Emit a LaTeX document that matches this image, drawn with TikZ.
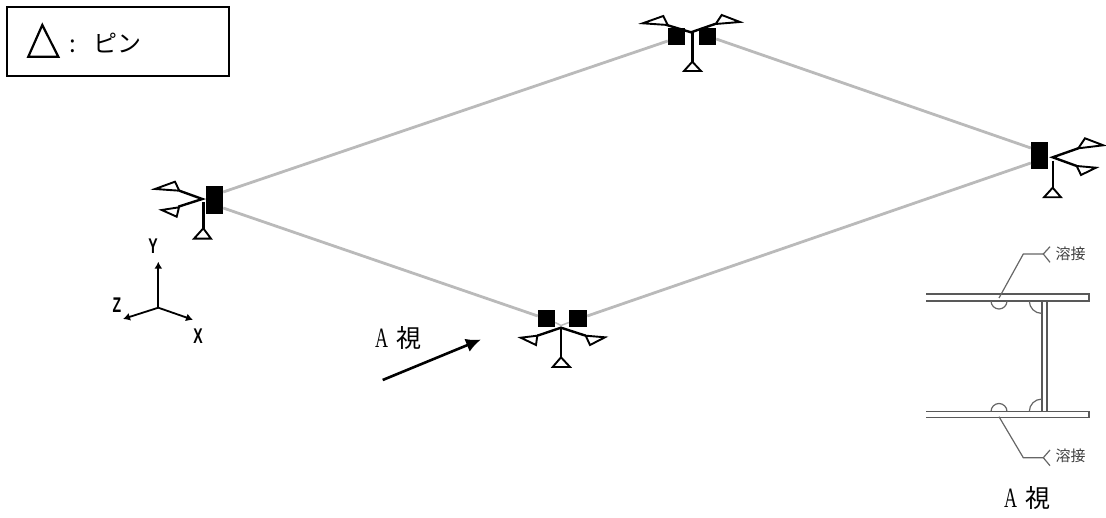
\documentclass[tikz,border=0pt]{standalone}
\usepackage{fontspec}
\usepackage{graphicx}
\setmainfont{Noto Sans CJK JP}
\newfontfamily\latinserif{Liberation Serif}
\newfontfamily\axisfont{Liberation Sans}
\newcommand{\narrowA}{\scalebox{0.72}[1.12]{\latinserif A}}
\newcommand{\axischar}[1]{\scalebox{0.78}[1.18]{\axisfont\bfseries #1}}
\usetikzlibrary{arrows.meta}
\tikzset{
  block/.style={fill=black,draw=none,minimum width=#1,inner sep=0pt},
  member/.style={draw=black!27,line width=2.8pt},
  pinline/.style={draw=black,line width=2.4pt},
  pintri/.style={draw=black,line width=1.9pt,fill=white,line join=miter},
  plate/.style={draw=black!65,line width=1.6pt},
  weld/.style={draw=black!60,line width=1.2pt},
  axisline/.style={draw=black,line width=1.8pt,-{Latex[length=7pt,width=8pt]}},
  axislabel/.style={inner sep=0pt,font=\fontsize{18}{18}\selectfont},
  vlabel/.style={inner sep=0pt,font=\fontsize{25}{25}\selectfont},
  weldlabel/.style={inner sep=0pt,text=black!75,font=\fontsize{15}{15}\selectfont}
}
\begin{document}
\begin{tikzpicture}[x=1pt,y=-1pt]
\useasboundingbox (0,0) rectangle (1106,518);
% members
\node[block=17pt,minimum height=28pt] (L) at (214.5,200) {};
\node[block=17pt,minimum height=27pt] (R) at (1039.5,155.5) {};
\node[block=17pt,minimum height=17pt] (T1) at (676.5,36.5) {};
\node[block=17pt,minimum height=17pt] (T2) at (707.5,36.5) {};
\node[block=17pt,minimum height=17pt] (B1) at (546.5,318.5) {};
\node[block=18pt,minimum height=17pt] (B2) at (578,318.5) {};
\draw[member] ([yshift=8pt]L.east) -- ([yshift=-4.5pt]T1.west);
\draw[member] ([yshift=-8pt]L.east) -- ([yshift=2.5pt]B1.west);
\draw[member] ([yshift=2.5pt]B2.east) -- ([yshift=-7.5pt]R.west);
\draw[member] ([yshift=-2.5pt]T2.east) -- ([yshift=7.5pt]R.west);
% pin junctions
\coordinate (JT) at (691,32.3);
\coordinate (JR) at (1052.7,157.3);
\coordinate (JL) at (202.3,199);
\coordinate (JB) at (561,327.7);
\draw[member,line width=1.5pt] ([yshift=-4pt]B1.east) -- (561,325.5) -- ([yshift=-4pt]B2.west);
% top pins
\draw[pinline] (666.7,25) -- (JT) -- (715,24);
\draw[pinline] (692.3,32.3) -- (692.3,62);
\draw[pintri] (692.3,61.7) -- (684,71) -- (701,71) -- cycle;
\draw[pintri] (642.7,23.3) -- (663.3,16) -- (667.7,25) -- cycle;
\draw[pintri] (721.7,15) -- (740,22) -- (715.7,24) -- cycle;
% right pins
\draw[pinline] (1078.3,148.3) -- (JR) -- (1076.7,166);
\draw[pinline] (1052.7,160.7) -- (1052.7,188);
\draw[pintri] (1052.7,187.7) -- (1044,197.3) -- (1061,197.3) -- cycle;
\draw[pintri] (1085,138.3) -- (1103.3,145.3) -- (1078.3,148.3) -- cycle;
\draw[pintri] (1076.7,166) -- (1096,167.7) -- (1081,175) -- cycle;
% left pins
\draw[pinline] (179.3,190.7) -- (JL) -- (178.3,206.7);
\draw[pinline] (203.3,202.3) -- (203.3,228.6);
\draw[pintri] (203.3,228.3) -- (194,238.7) -- (211,238.7) -- cycle;
\draw[pintri] (155,189) -- (175,181.7) -- (179.3,190.7) -- cycle;
\draw[pintri] (161.7,210) -- (179,207.3) -- (176.7,216.7) -- cycle;
% bottom pins
\draw[pinline] (537.3,335.7) -- (JB) -- (585.7,335.7);
\draw[pinline] (561,327.7) -- (561,357.5);
\draw[pintri] (561,357.3) -- (552.7,367) -- (570,367) -- cycle;
\draw[pintri] (520.7,337.7) -- (537.3,335.7) -- (536,345) -- cycle;
\draw[pintri] (585.7,335.7) -- (605,337.3) -- (590,345) -- cycle;
% legend
\node[draw=black,line width=2.2pt,minimum width=222pt,minimum height=69pt,inner sep=0pt] (legend) at (118,41.5) {};
\draw[draw=black,line width=2.2pt,line join=miter] (42.3,25) -- (28.3,56.7) -- (58.3,56.7) -- cycle;
\node[inner sep=0pt,font=\fontsize{24}{24}\selectfont] (colon) at (73,46) {:};
\node[inner sep=0pt,font=\fontsize{24}{24}\selectfont] (pin) at (117.5,43) {ピン};
% axes
\coordinate (O) at (158.3,307.7);
\coordinate (AY) at (158.3,261.7);
\coordinate (AZ) at (123,319);
\coordinate (AX) at (193,319.8);
\draw[axisline] (O) -- (AY);
\draw[axisline] (O) -- (AZ);
\draw[axisline] (O) -- (AX);
\node[axislabel] (ly) at (153,246) {\axischar{Y}};
\node[axislabel] (lz) at (117,305) {\axischar{Z}};
\node[axislabel] (lx) at (198,336) {\axischar{X}};
% view arrow
\node[vlabel] (va1) at (398,338) {\narrowA\kern8pt 視};
\coordinate (VS) at (382.7,380);
\coordinate (VE) at (481,339.5);
\draw[draw=black,line width=2.6pt,-{Latex[length=15pt,width=14pt]}] (VS) -- (VE);
% section
\draw[plate] (926,294.3) -- (1089,294.3) -- (1089,301) -- (926,301);
\draw[plate] (926,411.5) -- (1089,411.5) -- (1089,417.7) -- (926,417.7);
\draw[plate] (1041.7,301) -- (1041.7,411.5);
\draw[plate] (1046.7,301) -- (1046.7,411.5);
\draw[weld] (991,301) arc[start angle=180,end angle=360,radius=8pt];
\draw[weld] (1029.3,301) arc[start angle=180,end angle=270,radius=12.4pt];
\draw[weld] (991,411.5) arc[start angle=180,end angle=0,radius=8pt];
\draw[weld] (1029.3,411.5) arc[start angle=180,end angle=90,radius=12.4pt];
\draw[weld] (999,298) -- (1023.3,254) -- (1043.3,254);
\draw[weld] (1050,246.7) -- (1043.3,254) -- (1050,262.3);
\draw[weld] (999,416.7) -- (1023.3,457.7) -- (1043.3,457.7);
\draw[weld] (1050,450) -- (1043.3,457.7) -- (1050,465.7);
\node[weldlabel] (w1) at (1070.5,254) {溶接};
\node[weldlabel] (w2) at (1070.5,456) {溶接};
\node[vlabel] (va2) at (1027,498) {\narrowA\kern8pt 視};
\end{tikzpicture}
\end{document}
